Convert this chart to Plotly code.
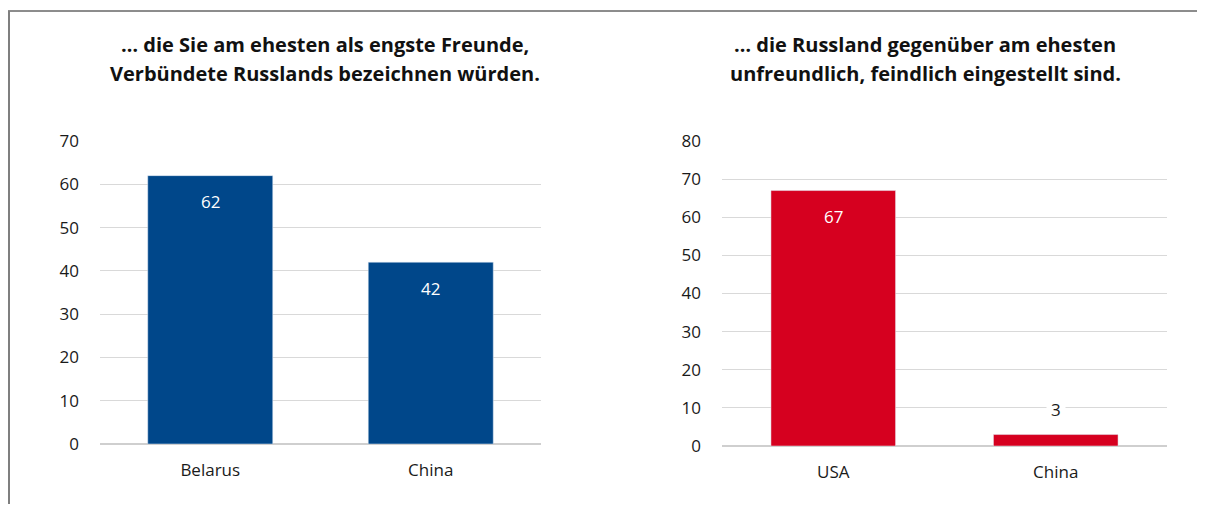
import plotly.graph_objects as go

left_title = ["… die Sie am ehesten als engste Freunde,", "Verbündete Russlands bezeichnen würden."]
right_title = ["… die Russland gegenüber am ehesten", "unfreundlich, feindlich eingestellt sind."]

left_cats = ["Belarus", "China"]
left_vals = [62, 42]
right_cats = ["USA", "China"]
right_vals = [67, 3]

blue = "#00478a"
red = "#d6001f"
font = "Open Sans"

# page body has an 8px margin, so the figure is sized and laid out in that frame
W, H = 1189, 496
OFF = 8


def px(x):
    return (x - OFF) / W


def py(y):
    return 1 - (y - OFF) / H


fig = go.Figure()
fig.add_trace(go.Bar(x=left_cats, y=left_vals, marker_color=blue, width=0.567,
                     xaxis="x", yaxis="y", hoverinfo="x+y"))
fig.add_trace(go.Bar(x=right_cats, y=right_vals, marker_color=red, width=0.56,
                     xaxis="x2", yaxis="y2", hoverinfo="x+y"))

grid = dict(showgrid=True, gridcolor="#d9d9d9", gridwidth=1, zeroline=True,
            zerolinecolor="#cfcfcf", zerolinewidth=2, ticks="", ticklabelstandoff=20,
            automargin=False,
            tickfont=dict(family=font, size=17, color="#1a1a1a"), fixedrange=True)
xcfg = dict(showgrid=False, zeroline=False, ticks="", ticklabelstandoff=14,
            automargin=False,
            tickfont=dict(family=font, size=17, color="#1a1a1a"), fixedrange=True)

fig.update_layout(
    width=W, height=H,
    margin=dict(l=0, r=0, t=0, b=0, pad=0),
    paper_bgcolor="white", plot_bgcolor="white",
    showlegend=False,
    xaxis=dict(domain=[px(100), px(541)], anchor="y", **xcfg),
    yaxis=dict(domain=[py(444), py(141)], range=[0, 70], dtick=10, anchor="x", **grid),
    xaxis2=dict(domain=[px(722), px(1167)], anchor="y2", **xcfg),
    yaxis2=dict(domain=[py(446), py(141)], range=[0, 80], dtick=10, anchor="x2", **grid),
)

# value labels
for xa, ya, cats, vals in [("x", "y", left_cats, left_vals), ("x2", "y2", right_cats, right_vals)]:
    top = max(vals)
    for c, v in zip(cats, vals):
        inside = v > top * 0.2
        fig.add_annotation(x=c, y=v, xref=xa, yref=ya, text=str(v), showarrow=False,
                           yshift=-26 if inside else 25,
                           font=dict(family=font, size=17, color="white" if inside else "#1a1a1a"),
                           bgcolor=None if inside else "white", borderpad=4)

# titles, one annotation per line to match the line spacing
for cx, lines in [(325, left_title), (925, right_title)]:
    for i, line in enumerate(lines):
        fig.add_annotation(x=px(cx), y=py(45 + 28 * i), xref="paper", yref="paper", text=line,
                           xanchor="center", yanchor="middle",
                           showarrow=False, align="center",
                           font=dict(family=font, size=20, color="#111111", weight="bold"))

# frame lines at top and left
fig.add_shape(type="line", xref="paper", yref="paper", x0=px(8), x1=1, y0=py(11), y1=py(11),
              line=dict(color="#1a1a1a", width=1))
fig.add_shape(type="line", xref="paper", yref="paper", x0=px(9), x1=px(9), y0=0, y1=py(11),
              line=dict(color="#7f7f7f", width=2))

fig.write_html("out.html")
